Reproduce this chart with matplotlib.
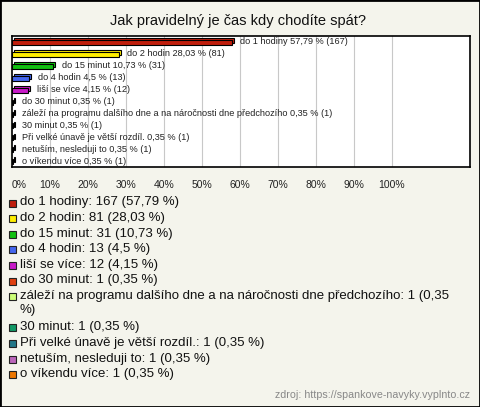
import matplotlib.pyplot as plt
from matplotlib.patches import Rectangle

""" Jak pravidelný je čas kdy chodíte spát? - horizontal bar chart """

plt.rcParams['font.family'] = ['Liberation Sans', 'DejaVu Sans']

names = ['do 1 hodiny', 'do 2 hodin', 'do 15 minut', 'do 4 hodin', 'liší se více',
         'do 30 minut', 'záleží na programu dalšího dne a na náročnosti dne předchozího',
         '30 minut', 'Při velké únavě je větší rozdíl.', 'netuším, nesleduji to',
         'o víkendu více']
counts = [167, 81, 31, 13, 12, 1, 1, 1, 1, 1, 1]
percents = [57.79, 28.03, 10.73, 4.5, 4.15, 0.35, 0.35, 0.35, 0.35, 0.35, 0.35]
colors = ['#c01e0c', '#ffee00', '#11c011', '#4466ee', '#c81ac8', '#e04010',
          '#ccff77', '#119966', '#227788', '#bb66bb', '#ee7700']
ticks = [0, 10, 20, 30, 40, 50, 60, 70, 80, 90, 100]

W, H = 480, 407
bg = '#f4f4ec'

def px(x, y):
    return x / W, 1 - y / H

def pct(p):
    return f'{p:g}'.replace('.', ',')

fig = plt.figure(figsize=(W / 100, H / 100), dpi=100, facecolor=bg)
fig.patches.append(Rectangle((0, 0), 1, 1, transform=fig.transFigure, fill=False,
                             edgecolor='black', lw=2))

fig.text(*px(238, 21), 'Jak pravidelný je čas kdy chodíte spát?', ha='center', va='center',
         fontsize=10.5, color='#111111')

# plot area
l, r, t, b = 12, 470, 36, 167
ax = fig.add_axes([l / W, 1 - b / H, (r - l) / W, (b - t) / H])
ax.set_facecolor('white')
xmax = (r - l) / 3.8
ax.set_xlim(0, xmax)
n = len(names)
ax.set_ylim(n - 0.55, -0.55)
for s in ax.spines.values():
    s.set_linewidth(1.2)
    s.set_color('black')
ax.set_yticks([])
ax.set_xticks(ticks)
ax.set_xticklabels([f'{v}%' for v in ticks], fontsize=7.5, color='#222222')
ax.get_xticklabels()[0].set_horizontalalignment('left')
ax.tick_params(axis='x', length=0, pad=9)
for v in ticks[1:]:
    ax.axvline(v, color='#c8c8c8', lw=0.8, zorder=0)

# 3D-looking bars: shifted back face, then front face
dx = 2 / 3.8
dy = 0.15
hgt = 0.42
for i, (p, c) in enumerate(zip(percents, colors)):
    ax.barh(i - dy, p, left=dx, height=hgt, color=c, edgecolor='black', lw=0.8, zorder=2)
    ax.barh(i, p, height=hgt, color=c, edgecolor='black', lw=0.8, zorder=3)
    ax.text(p + 2.3, i - 0.05, f'{names[i]} {pct(p)} % ({counts[i]})', va='center',
            fontsize=6.6, color='#222222', zorder=4)

# legend
y = 203
step = 15.6
for name, cnt, p, c in zip(names, counts, percents, colors):
    label = f'{name}: {cnt} ({pct(p)} %)'
    if len(label) > 70:
        label = label[:-3] + '\n%)'
    fig.patches.append(Rectangle(px(9, y + 3.5), 7 / W, 7 / H, transform=fig.transFigure,
                                 facecolor=c, edgecolor='#222222', lw=0.8))
    fig.text(*px(20, y - 6.5), label, ha='left', va='top', fontsize=9.5, color='#111111',
             linespacing=1.22)
    y += step * (label.count('\n') + 1)

fig.text(*px(470, 395), 'zdroj: https://spankove-navyky.vyplnto.cz', ha='right', va='center',
         fontsize=7.7, color='#888888')

fig.savefig('out.png', dpi=100, facecolor=bg)
